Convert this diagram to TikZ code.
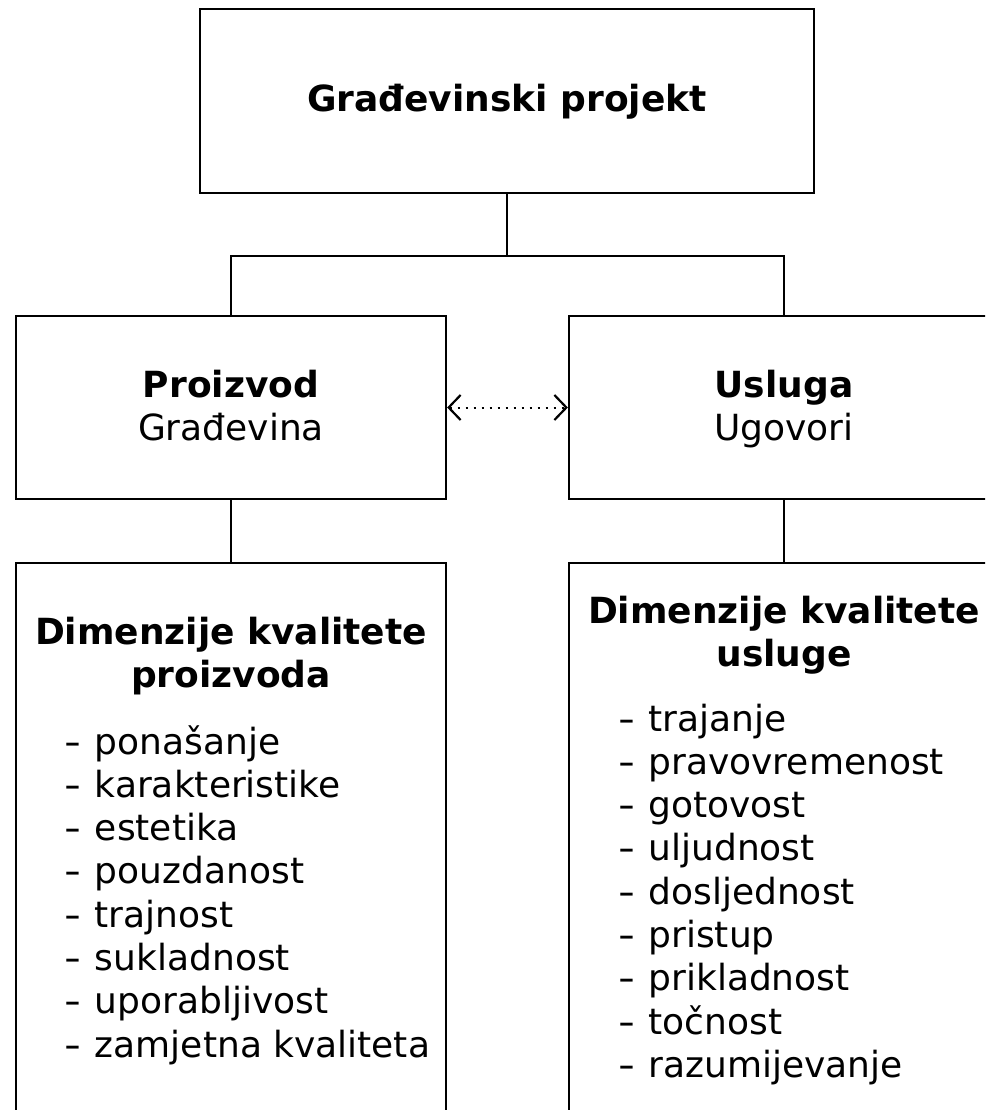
\documentclass[tikz,border=0pt]{standalone}
\usepackage{fontspec}
\usepackage{graphicx}
\setmainfont{DejaVu Sans}
\usetikzlibrary{arrows.meta}
% list entry: a slightly widened hyphen, a gap, then the text
\newcommand{\dimitem}[1]{\scalebox{1.3}[1]{-}\hspace{13.4pt}#1}
\begin{document}
\begin{tikzpicture}[x=1pt,y=-1pt,
  frame/.style={draw, line width=2.2pt, inner sep=0pt},
  wire/.style={line width=2.2pt},
  lbl/.style={font=\fontsize{36}{43}\selectfont, inner sep=0pt, anchor=base},
  boldlbl/.style={lbl, font=\fontsize{36}{43}\selectfont\bfseries},
  item/.style={lbl, anchor=base west},
  link/.style={line width=2pt, dash pattern=on 2pt off 6pt,
    {Straight Barb[length=12pt,width=25pt,line width=2.2pt]}-{Straight Barb[length=12pt,width=25pt,line width=2.2pt]}}]
\useasboundingbox (0,0) rectangle (985,1110);
\clip (0,0) rectangle (985,1110);

% boxes
\node[frame, minimum width=614pt, minimum height=184pt] (proj) at (507,101) {};
\node[frame, minimum width=430pt, minimum height=183pt] (prod) at (231,407.5) {};
\node[frame, minimum width=430pt, minimum height=183pt] (serv) at (784,407.5) {};
\node[frame, minimum width=430pt, minimum height=580pt, anchor=north] (dimp) at (231,562) {};
\node[frame, minimum width=430pt, minimum height=580pt, anchor=north] (dims) at (784,562) {};

% tree connectors
\draw[wire] (proj.south) -- ++(0,62) coordinate (fork) -| (prod.north);
\draw[wire] (fork) -| (serv.north);
\draw[wire] (prod.south) -- (dimp.north);
\draw[wire] (serv.south) -- (dims.north);
\draw[link] (prod.east) -- (serv.west);

% labels
\node[boldlbl] (tproj) at (507,112) {Građevinski projekt};
\node[boldlbl] (tprod) at (231,397) {Proizvod};
\node[lbl] (tprod2) at (231,440) {Građevina};
\node[boldlbl] (tserv) at (784,397) {Usluga};
\node[lbl] (tserv2) at (784,440) {Ugovori};
\node[boldlbl] (hp1) at (231,644) {Dimenzije kvalitete};
\node[boldlbl] (hp2) at (231,687) {proizvoda};
\node[boldlbl] (hs1) at (784,623) {Dimenzije kvalitete};
\node[boldlbl] (hs2) at (784,666) {usluge};

% quality dimensions of the product
\foreach \t [count=\i from 0] in {ponašanje, karakteristike, estetika, pouzdanost,
    trajnost, sukladnost, uporabljivost, zamjetna kvaliteta}
  \node[item] (p\i) at (64.4,754+43.3*\i) {\dimitem{\t}};

% quality dimensions of the service
\foreach \t [count=\i from 0] in {trajanje, pravovremenost, gotovost, uljudnost,
    dosljednost, pristup, prikladnost, točnost, razumijevanje}
  \node[item] (s\i) at (618,731+43.3*\i) {\dimitem{\t}};
\end{tikzpicture}
\end{document}
